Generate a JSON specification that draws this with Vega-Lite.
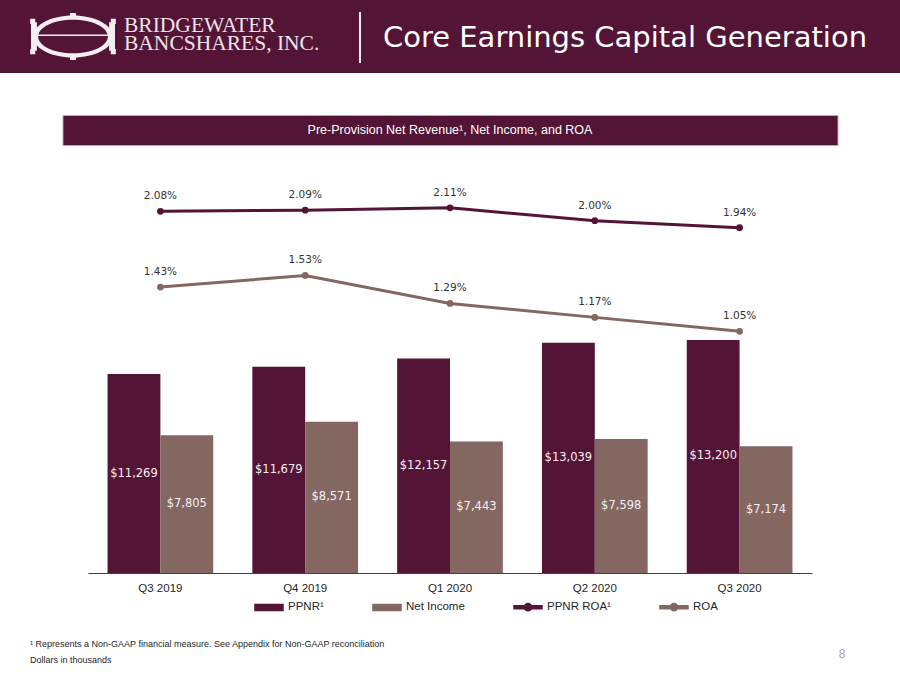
{
  "$schema": "https://vega.github.io/schema/vega-lite/v6.json",
  "padding": 0,
  "background": "white",
  "bounds": "flush",
  "spacing": 42,
  "center": true,
  "config": {"view": {"stroke": null}, "font": "Liberation Sans"},
  "datasets": {
    "bars": [
      {"quarter": "Q3 2019", "series": "PPNR¹", "value": 11269},
      {"quarter": "Q3 2019", "series": "Net Income", "value": 7805},
      {"quarter": "Q4 2019", "series": "PPNR¹", "value": 11679},
      {"quarter": "Q4 2019", "series": "Net Income", "value": 8571},
      {"quarter": "Q1 2020", "series": "PPNR¹", "value": 12157},
      {"quarter": "Q1 2020", "series": "Net Income", "value": 7443},
      {"quarter": "Q2 2020", "series": "PPNR¹", "value": 13039},
      {"quarter": "Q2 2020", "series": "Net Income", "value": 7598},
      {"quarter": "Q3 2020", "series": "PPNR¹", "value": 13200},
      {"quarter": "Q3 2020", "series": "Net Income", "value": 7174}
    ],
    "lines": [
      {"quarter": "Q3 2019", "series": "PPNR ROA¹", "roa": 0.0208},
      {"quarter": "Q4 2019", "series": "PPNR ROA¹", "roa": 0.0209},
      {"quarter": "Q1 2020", "series": "PPNR ROA¹", "roa": 0.0211},
      {"quarter": "Q2 2020", "series": "PPNR ROA¹", "roa": 0.0200},
      {"quarter": "Q3 2020", "series": "PPNR ROA¹", "roa": 0.0194},
      {"quarter": "Q3 2019", "series": "ROA", "roa": 0.0143},
      {"quarter": "Q4 2019", "series": "ROA", "roa": 0.0153},
      {"quarter": "Q1 2020", "series": "ROA", "roa": 0.0129},
      {"quarter": "Q2 2020", "series": "ROA", "roa": 0.0117},
      {"quarter": "Q3 2020", "series": "ROA", "roa": 0.0105}
    ]
  },
  "vconcat": [
    {
      "width": 900,
      "height": 73,
      "view": {"fill": "#541436", "stroke": null},
      "layer": [
        {
          "data": {"values": [{"element": "logo"}]},
          "mark": {
            "type": "point",
            "shape": "M-8.026,0A0.95,0.5 0 1,1 -9.926,0A0.95,0.5 0 1,1 -8.026,0Z M-8.146,0A0.83,0.4 0 1,0 -9.806,0A0.83,0.4 0 1,0 -8.146,0Z M-9.826,-0.05H-8.126V-0.01H-9.826Z M-9.976,-0.34H-9.836V0.34H-9.976Z M-8.116,-0.34H-7.976V0.34H-8.116Z M-9.996,-0.42H-9.876V-0.3H-9.996Z M-9.996,0.3H-9.876V0.42H-9.996Z M-8.076,-0.42H-7.956V-0.3H-8.076Z M-8.076,0.3H-7.956V0.42H-8.076Z M-9.046,-0.56H-8.906V-0.44H-9.046Z M-9.046,0.44H-8.906V0.56H-9.046Z M-2.167,-0.583H-2.119V0.631H-2.167Z",
            "size": 7056,
            "filled": true,
            "fill": "#f3eef1",
            "strokeWidth": 0,
            "opacity": 1
          },
          "encoding": {}
        },
        {
          "data": {"values": [{"name": "BRIDGEWATER\nBANCSHARES, INC."}]},
          "mark": {
            "type": "text",
            "align": "left",
            "baseline": "middle",
            "dx": -326,
            "dy": -11,
            "font": "Liberation Serif",
            "fontSize": 21.5,
            "lineBreak": "\n",
            "lineHeight": 18,
            "color": "#ece3e9"
          },
          "encoding": {"text": {"field": "name"}}
        },
        {
          "data": {"values": [{"title": "Core Earnings Capital Generation"}]},
          "mark": {
            "type": "text",
            "align": "center",
            "baseline": "middle",
            "dx": 175,
            "dy": 1,
            "font": "DejaVu Sans",
            "fontSize": 29,
            "color": "#ffffff"
          },
          "encoding": {"text": {"field": "title"}}
        }
      ]
    },
    {
      "width": 775,
      "height": 30,
      "view": {"fill": "#541436", "stroke": "#bfa2b3", "strokeWidth": 1},
      "data": {"values": [{"subtitle": "Pre-Provision Net Revenue¹, Net Income, and ROA"}]},
      "mark": {
        "type": "text",
        "align": "center",
        "baseline": "middle",
        "font": "Liberation Sans",
        "fontSize": 12.5,
        "color": "#ffffff"
      },
      "encoding": {"text": {"field": "subtitle"}}
    },
    {
      "width": 724,
      "height": 386,
      "layer": [
        {
          "data": {"name": "bars"},
          "mark": {"type": "bar"},
          "encoding": {
            "x": {
              "field": "quarter",
              "type": "nominal",
              "sort": null,
              "scale": {"paddingInner": 0.27, "paddingOuter": 0.135},
              "axis": {
                "title": null,
                "domainColor": "#404040",
                "domainWidth": 1.2,
                "ticks": false,
                "labelAngle": 0,
                "labelFontSize": 11.5,
                "labelColor": "#262626",
                "labelPadding": 9,
                "labelFont": "Liberation Sans",
                "grid": false
              }
            },
            "xOffset": {
              "field": "series",
              "type": "nominal",
              "sort": ["PPNR¹", "Net Income"],
              "scale": {"paddingInner": 0, "paddingOuter": 0}
            },
            "y": {
              "field": "value",
              "type": "quantitative",
              "scale": {"domain": [0, 21867], "nice": false},
              "axis": null
            },
            "color": {
              "field": "series",
              "type": "nominal",
              "scale": {
                "domain": ["PPNR¹", "Net Income", "PPNR ROA¹", "ROA"],
                "range": ["#541436", "#836760", "#541436", "#836760"]
              },
              "legend": {
                "orient": "none",
                "legendX": 254,
                "legendY": 592,
                "direction": "horizontal",
                "title": null,
                "columnPadding": 46,
                "symbolSize": 784,
                "labelFontSize": 11.5,
                "labelColor": "#262626",
                "labelFont": "Liberation Sans",
                "labelOffset": 4,
                "encode": {
                  "symbols": {
                    "update": {
                      "shape": {"signal": "datum.value === 'PPNR¹' || datum.value === 'Net Income' ? 'M-1,-0.22H1V0.22H-1Z' : 'M-1,-0.11H1V0.11H-1Z M0.26,0A0.26,0.26 0 1,1 -0.26,0A0.26,0.26 0 1,1 0.26,0Z'"},
                      "fill": {"scale": "color", "field": "value"},
                      "stroke": {"value": "transparent"},
                      "opacity": {"value": 1}
                    }
                  }
                }
              }
            }
          }
        },
        {
          "data": {"name": "bars"},
          "mark": {
            "type": "text",
            "baseline": "middle",
            "font": "DejaVu Sans",
            "fontSize": 11.5,
            "color": "#f5eef2"
          },
          "encoding": {
            "x": {"field": "quarter", "type": "nominal", "sort": null},
            "xOffset": {"field": "series", "type": "nominal", "sort": ["PPNR¹", "Net Income"]},
            "y": {
              "field": "value",
              "type": "quantitative",
              "scale": {"domain": [0, 43734], "nice": false},
              "axis": null
            },
            "text": {"field": "value", "type": "quantitative", "format": "$,.0f"}
          }
        },
        {
          "data": {"name": "lines"},
          "mark": {"type": "line", "strokeWidth": 3, "point": {"filled": true, "size": 45}},
          "encoding": {
            "x": {"field": "quarter", "type": "nominal", "sort": null},
            "y": {
              "field": "roa",
              "type": "quantitative",
              "scale": {"domain": [-0.01024, 0.02289], "nice": false, "zero": false},
              "axis": null
            },
            "color": {"field": "series", "type": "nominal"}
          }
        },
        {
          "data": {"name": "lines"},
          "mark": {
            "type": "text",
            "dy": -15,
            "baseline": "middle",
            "font": "DejaVu Sans",
            "fontSize": 10.5,
            "color": "#333333"
          },
          "encoding": {
            "x": {"field": "quarter", "type": "nominal", "sort": null},
            "y": {
              "field": "roa",
              "type": "quantitative",
              "scale": {"domain": [-0.01024, 0.02289], "nice": false, "zero": false},
              "axis": null
            },
            "text": {"field": "roa", "type": "quantitative", "format": ".2%"}
          }
        }
      ],
      "resolve": {"scale": {"y": "independent"}}
    },
    {
      "width": 900,
      "height": 60,
      "layer": [
        {
          "data": {"values": [{"note": "¹ Represents a Non-GAAP financial measure. See Appendix for Non-GAAP reconciliation\nDollars in thousands"}]},
          "mark": {
            "type": "text",
            "align": "left",
            "baseline": "top",
            "dx": -420,
            "dy": -5,
            "lineBreak": "\n",
            "lineHeight": 16,
            "font": "Liberation Sans",
            "fontSize": 9,
            "color": "#262626"
          },
          "encoding": {"text": {"field": "note"}}
        },
        {
          "data": {"values": [{"page": "8"}]},
          "mark": {
            "type": "text",
            "align": "center",
            "baseline": "middle",
            "dx": 392,
            "dy": 9,
            "font": "Liberation Sans",
            "fontSize": 12,
            "color": "#a6a6a6"
          },
          "encoding": {"text": {"field": "page"}}
        }
      ]
    }
  ]
}
